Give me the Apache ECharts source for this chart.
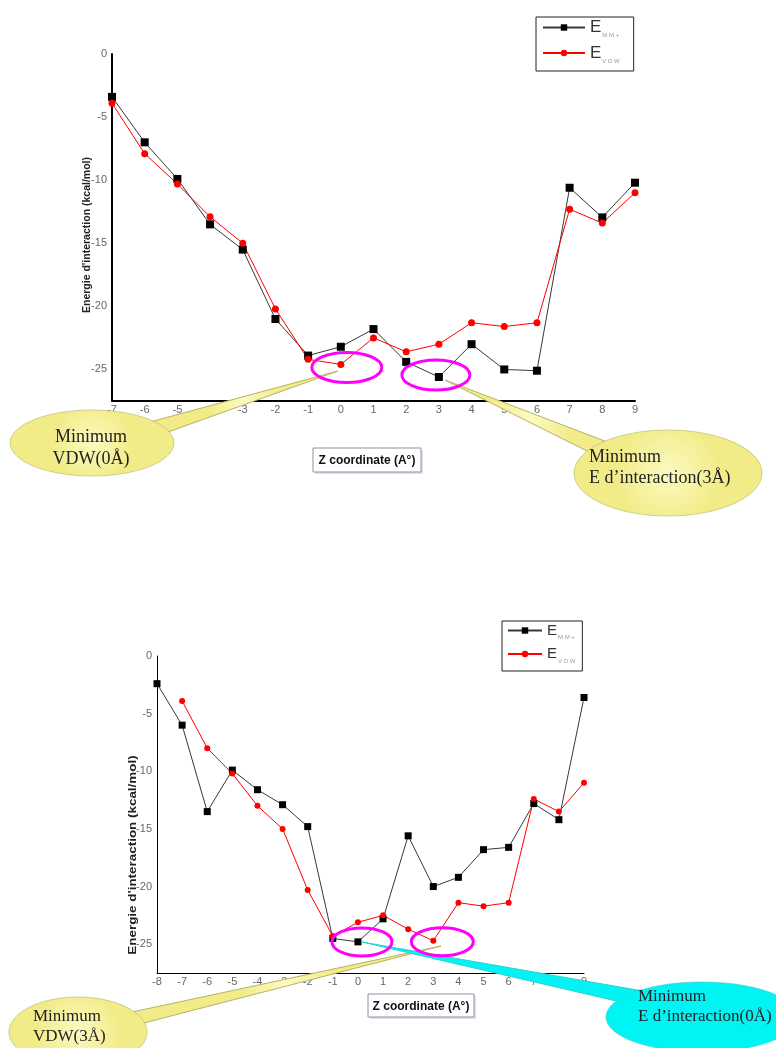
<!DOCTYPE html>
<html>
<head>
<meta charset="utf-8">
<script src="https://cdn.jsdelivr.net/npm/echarts@6/dist/echarts.min.js"></script>
<style>
html, body { margin: 0; padding: 0; background: #fff; }
#main { width: 776px; height: 1048px; }
</style>
</head>
<body>
<div id="main"></div>
<script>
// Z coordinate (Å) and interaction energies (kcal/mol)
var zTop = [-7, -6, -5, -4, -3, -2, -1, 0, 1, 2, 3, 4, 5, 6, 7, 8, 9];
var mmTop = [-3.4, -7.0, -9.9, -13.5, -15.5, -21.0, -23.9, -23.2, -21.8, -24.4, -25.6, -23.0, -25.0, -25.1, -10.6, -12.95, -10.2];
var vdwTop = [-3.9, -7.9, -10.3, -12.9, -15.0, -20.2, -24.2, -24.6, -22.5, -23.6, -23.0, -21.3, -21.6, -21.3, -12.3, -13.4, -11.0];

var zBottom = [-8, -7, -6, -5, -4, -3, -2, -1, 0, 1, 2, 3, 4, 5, 6, 7, 8, 9];
var mmBottom = [-2.4, -6.0, -13.5, -9.9, -11.6, -12.9, -14.8, -24.5, -24.8, -22.8, -15.6, -20.0, -19.2, -16.8, -16.6, -12.8, -14.2, -3.6];
var vdwBottom = [null, -3.9, -8.0, -10.2, -13.0, -15.0, -20.3, -24.3, -23.1, -22.5, -23.7, -24.7, -21.4, -21.7, -21.4, -12.4, -13.5, -11.0];

var yTicks = [0, -5, -10, -15, -20, -25];
var yTitle = "Energie d'interaction (kcal/mol)";
var xTitle = 'Z coordinate (A°)';

function pairs(xs, ys) {
    var out = [];
    for (var i = 0; i < xs.length; i++) {
        if (ys[i] !== null) out.push([xs[i], ys[i]]);
    }
    return out;
}

var chart = echarts.init(document.getElementById('main'));

function xAxisOf(grid, min, lineW) {
    return {
        type: 'value', gridIndex: grid, min: min, max: 9, interval: 1,
        axisLine: { onZero: false, lineStyle: { color: '#000', width: lineW } },
        axisTick: { show: false },
        splitLine: { show: false },
        axisLabel: { color: '#666', fontSize: 11, fontFamily: 'Liberation Sans', margin: 3 }
    };
}

function yAxisOf(grid, lineW) {
    return {
        type: 'value', gridIndex: grid, min: -27.5, max: 0,
        axisLine: { show: true, onZero: false, lineStyle: { color: '#000', width: lineW } },
        axisTick: { show: false },
        splitLine: { show: false },
        axisLabel: { color: '#666', fontSize: 11, fontFamily: 'Liberation Sans', margin: 5, customValues: yTicks }
    };
}

function legendOf(left, top, itemW, eSize, lh, pad) {
    return {
        orient: 'vertical', left: left, top: top,
        data: ['E_MM+', 'E_VDW'],
        itemWidth: itemW, itemHeight: 8, itemGap: 6,
        padding: pad,
        borderColor: '#222', borderWidth: 1,
        selectedMode: false,
        formatter: function (name) {
            return name === 'E_MM+' ? '{e|E}{s|M M +}' : '{e|E}{s|V D W}';
        },
        textStyle: {
            rich: {
                e: { fontSize: eSize, color: '#333', fontFamily: 'Liberation Sans', lineHeight: lh },
                s: { fontSize: 6, color: '#999', fontFamily: 'Liberation Sans', verticalAlign: 'bottom', lineHeight: 8, padding: [0, 0, 0, 1] }
            }
        }
    };
}

function blackSeries(xi, data, size) {
    return {
        name: 'E_MM+', type: 'line', xAxisIndex: xi, yAxisIndex: xi,
        data: data, symbol: 'rect', symbolSize: size,
        itemStyle: { color: '#000' },
        lineStyle: { color: '#383838', width: 1 }
    };
}

function redSeries(xi, data, size) {
    return {
        name: 'E_VDW', type: 'line', xAxisIndex: xi, yAxisIndex: xi,
        data: data, symbol: 'circle', symbolSize: size,
        itemStyle: { color: '#ff0000' },
        lineStyle: { color: '#ff0000', width: 1 }
    };
}

chart.setOption({
    animation: false,
    backgroundColor: '#fff',
    grid: [
        { left: 112, top: 54, width: 523, height: 347 },
        { left: 157, top: 656, width: 427, height: 317 }
    ],
    xAxis: [xAxisOf(0, -7, 2), xAxisOf(1, -8, 1)],
    yAxis: [yAxisOf(0, 2), yAxisOf(1, 1)],
    legend: [
        legendOf(536, 17, 42, 17, 22, [2, 14, 7, 6]),
        legendOf(502, 621, 34, 15, 20, [2, 7, 7, 5])
    ],
    series: [
        blackSeries(0, pairs(zTop, mmTop), 8),
        redSeries(0, pairs(zTop, vdwTop), 7),
        blackSeries(1, pairs(zBottom, mmBottom), 7),
        redSeries(1, pairs(zBottom, vdwBottom), 6)
    ]
});

// bulles d'annotation
var yellowFill = new echarts.graphic.RadialGradient(0.5, 0.5, 0.6, [
    { offset: 0, color: '#fcfac2' },
    { offset: 1, color: '#f1ec88' }
]);
var cyanFill = '#00f4f4';

function callout(tip, b1, b2, cx, cy, rx, ry, fill, edge) {
    return [
        { type: 'polygon', z: 100, shape: { points: [tip, b1, b2] }, style: { fill: fill, stroke: edge, lineWidth: 1 } },
        { type: 'ellipse', z: 101, shape: { cx: cx, cy: cy, rx: rx, ry: ry }, style: { fill: fill, stroke: edge, lineWidth: 0.6 } }
    ];
}

function label(x, y, txt, size, align) {
    return {
        type: 'text', z: 102,
        style: { x: x, y: y, text: txt, font: size + 'px "Liberation Serif"', fill: '#222', align: align || 'left', verticalAlign: 'middle' }
    };
}

function xBox(x, y, w, h) {
    return [
        { type: 'rect', z: 99, shape: { x: x + 2, y: y + 2, width: w, height: h }, style: { fill: '#dde3ee' } },
        { type: 'rect', z: 100, shape: { x: x, y: y, width: w, height: h }, style: { fill: '#fff', stroke: '#8a93a6', lineWidth: 1 } },
        { type: 'text', z: 101, style: { x: x + w / 2, y: y + h / 2 + 1, text: xTitle, font: 'bold 12px "Liberation Sans Narrow", "Liberation Sans"', fill: '#111', align: 'center', verticalAlign: 'middle' } }
    ];
}

function yLabel(x, y, size, stretch) {
    return {
        type: 'text', z: 50, x: x, y: y, rotation: Math.PI / 2, scaleX: stretch,
        style: { x: 0, y: 0, text: yTitle, font: 'bold ' + size + 'px "Liberation Sans"', fill: '#222', align: 'center', verticalAlign: 'middle' }
    };
}

function ring(p, dx, dy, rx, ry) {
    return {
        type: 'ellipse', z: 110,
        shape: { cx: p[0] + dx, cy: p[1] + dy, rx: rx, ry: ry },
        style: { fill: null, stroke: '#ff00ff', lineWidth: 3 }
    };
}

var pTop0 = chart.convertToPixel({ xAxisIndex: 0, yAxisIndex: 0 }, [0, vdwTop[7]]);
var pTop3 = chart.convertToPixel({ xAxisIndex: 0, yAxisIndex: 0 }, [3, mmTop[10]]);
var pBot0 = chart.convertToPixel({ xAxisIndex: 1, yAxisIndex: 1 }, [0, mmBottom[8]]);
var pBot3 = chart.convertToPixel({ xAxisIndex: 1, yAxisIndex: 1 }, [3, vdwBottom[11]]);

var g = [];
g.push(yLabel(87, 235, 10, 1.05));
g.push(yLabel(133, 855, 11, 1.22));
g = g.concat(xBox(313, 448, 108, 24));
g = g.concat(xBox(368, 994, 106, 23));

// graphe du haut
g = g.concat(callout([338, 371], [150, 422], [168, 432], 92, 443, 82, 33, yellowFill, '#b7b266'));
g.push(label(91, 437, 'Minimum', 18, 'center'));
g.push(label(91, 459, 'VDW(0Å)', 18, 'center'));
g = g.concat(callout([445, 380], [615, 445], [595, 455], 668, 473, 94, 43, yellowFill, '#b7b266'));
g.push(label(589, 457, 'Minimum', 18));
g.push(label(589, 478, 'E d\u2019interaction(3Å)', 18));

// graphe du bas
g = g.concat(callout([441, 946], [132, 1012], [140, 1024], 78, 1032, 69, 35, yellowFill, '#b7b266'));
g.push(label(33, 1017, 'Minimum', 17));
g.push(label(33, 1037, 'VDW(3Å)', 17));
g = g.concat(callout([362, 942], [660, 994], [625, 1003], 702, 1017, 96, 35, cyanFill, '#2fcfcf'));
g.push(label(638, 997, 'Minimum', 17));
g.push(label(638, 1017, 'E d\u2019interaction(0Å)', 17));

g.push(ring(pTop0, 6, 3, 35, 15));
g.push(ring(pTop3, -3, -2, 34, 15));
g.push(ring(pBot0, 4, 0, 30, 14));
g.push(ring(pBot3, 9, 1, 31, 14));

chart.setOption({ graphic: g });
</script>
</body>
</html>
